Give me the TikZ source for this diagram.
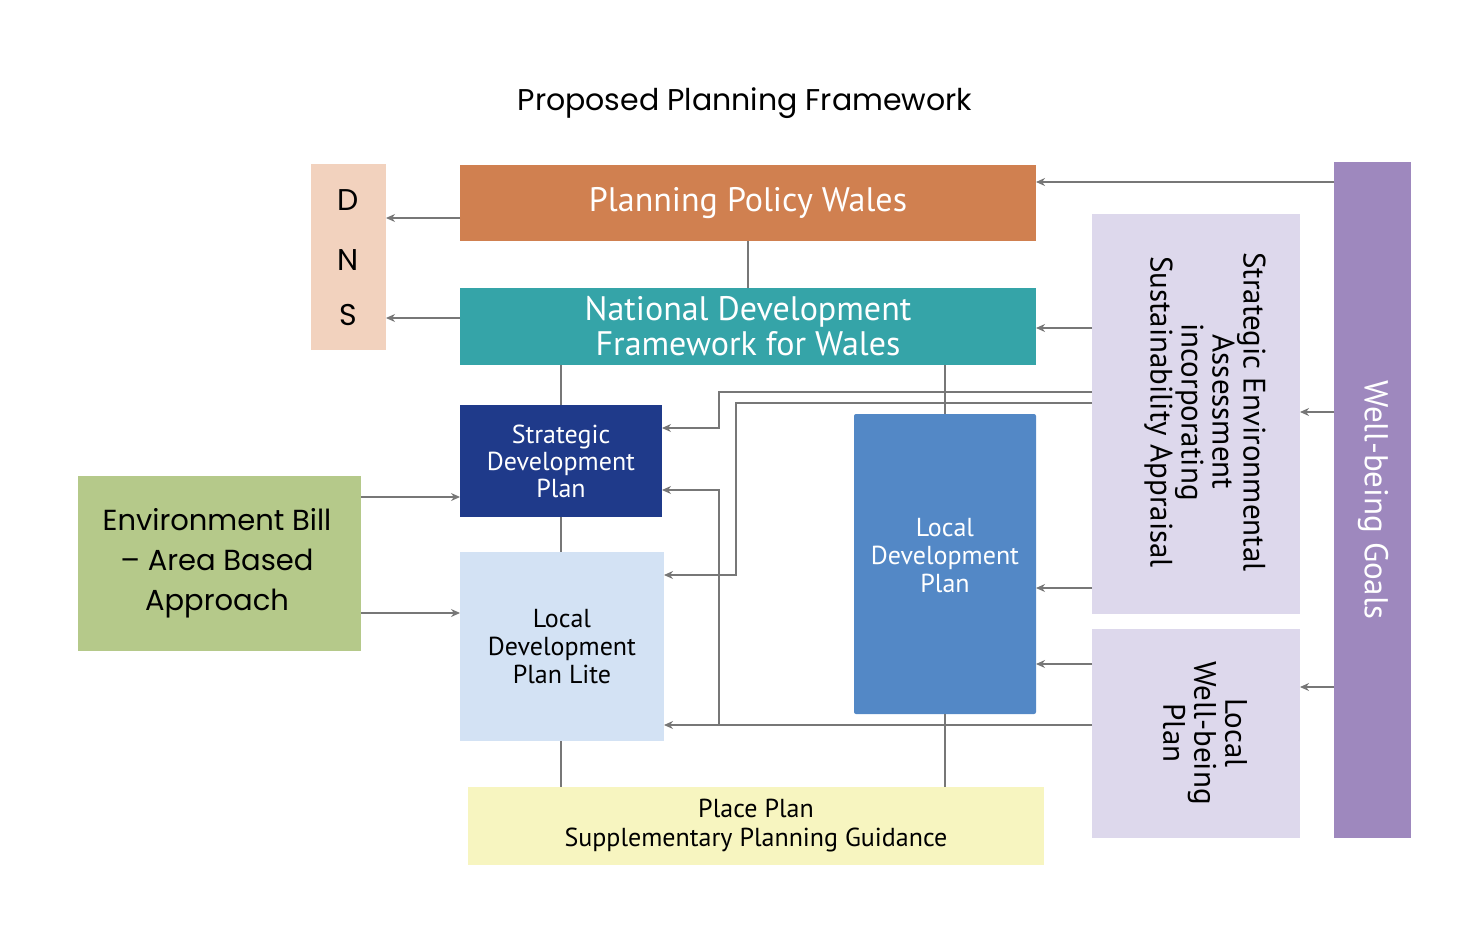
\documentclass[tikz,border=0pt]{standalone}
\usepackage{fontspec}
\setmainfont{PT Sans}
\newfontfamily\geofont{Poppins}
\usetikzlibrary{arrows.meta}
\definecolor{dnscol}{HTML}{F2D2BE}
\definecolor{ppwcol}{HTML}{D08050}
\definecolor{ndfcol}{HTML}{35A4A8}
\definecolor{sdpcol}{HTML}{1F3A8A}
\definecolor{ldplcol}{HTML}{D3E2F4}
\definecolor{ldpcol}{HTML}{5388C6}
\definecolor{placecol}{HTML}{F7F5C0}
\definecolor{ebcol}{HTML}{B5C98A}
\definecolor{seacol}{HTML}{DDD8EC}
\definecolor{wbgcol}{HTML}{9E88BE}
\definecolor{linecol}{HTML}{777777}
\tikzset{
  box/.style={inner sep=0pt, align=center, line width=0pt},
  conn/.style={draw=linecol, line width=1.2pt},
  arr/.style={conn, -{Stealth[length=9pt,width=8pt]}}
}
\newcommand{\fsize}[2]{\fontsize{#1}{#2}\selectfont}
\begin{document}
\begin{tikzpicture}[x=1pt,y=-1pt]
\useasboundingbox (0,0) rectangle (1471,933);
\node at (745,103) {\geofont\fsize{30}{34}Proposed Planning Framework};

\node[box, fill=dnscol, minimum width=75, minimum height=186] (dns) at (348.5,257) {};
\node at (348,200) {\geofont\fsize{30}{34}D};
\node at (348,260) {\geofont\fsize{30}{34}N};
\node at (348,315) {\geofont\fsize{30}{34}S};

\node[box, fill=ppwcol, text=white, minimum width=576, minimum height=76, font=\fsize{34}{36}] (ppw) at (748,203) {Planning Policy Wales};
\node[box, fill=ndfcol, text=white, minimum width=576, minimum height=77, font=\fsize{34}{35}] (ndf) at (748,326.5) {National Development\\Framework for Wales};
\node[box, fill=sdpcol, text=white, minimum width=202, minimum height=112, font=\fsize{26}{27}] (sdp) at (561,461) {Strategic\\Development\\Plan};
\node[box, fill=ldplcol, minimum width=204, minimum height=189, font=\fsize{26}{28}] (ldpl) at (562,646.5) {Local\\Development\\Plan Lite};
\node[box, fill=ldpcol, minimum width=182, minimum height=300, rounded corners=2pt] (ldp) at (945,564) {};
\node[text=white, align=center, font=\fsize{26}{28}] at (945,556) {Local\\Development\\Plan};
\node[box, fill=placecol, minimum width=576, minimum height=78, font=\fsize{26}{29}] (place) at (756,826) {Place Plan\\Supplementary Planning Guidance};
\node[box, fill=ebcol, minimum width=283, minimum height=175] (eb) at (219.5,563.5) {};
\node[align=center, font=\geofont\fsize{29}{40}] at (217,563) {Environment Bill\\– Area Based\\Approach};
\node[box, fill=seacol, minimum width=208, minimum height=400] (sea) at (1196,414) {};
\node[rotate=-90, align=center, font=\fsize{31}{31}] at (1205,412) {Strategic Environmental\\Assessment\\incorporating\\Sustainability Appraisal};
\node[box, fill=seacol, minimum width=208, minimum height=209] (lwp) at (1196,733.5) {};
\node[rotate=-90, align=center, font=\fsize{31}{31}] at (1205,733) {Local\\Well-being\\Plan};
\node[box, fill=wbgcol, minimum width=77, minimum height=676] (wbg) at (1372.5,500) {};
\node[rotate=-90, text=white, font=\fsize{33}{35}] at (1373,500) {Well-being Goals};

% plain links
\draw[conn] (ppw.south) -- (ndf.north);
\draw[conn] (ndf.south -| sdp.north) -- (sdp.north);
\draw[conn] (sdp.south) -- (ldpl.north -| sdp.south);
\draw[conn] (ldpl.south -| sdp.south) -- (place.north -| sdp.south);
\draw[conn] (ndf.south -| ldp.north) -- (ldp.north);
\draw[conn] (ldp.south) -- (place.north -| ldp.south);

% arrows
\draw[arr] (ppw.west |- 0,218) -- (dns.east |- 0,218);
\draw[arr] (ndf.west |- 0,318) -- (dns.east |- 0,318);
\draw[arr] (wbg.west |- 0,182) -- (ppw.east |- 0,182);
\draw[arr] (sea.west |- 0,328) -- (ndf.east |- 0,328);
\draw[arr] (wbg.west |- 0,412) -- (sea.east |- 0,412);
\draw[arr] (wbg.west |- 0,687) -- (lwp.east |- 0,687);
\draw[arr] (eb.east |- 0,497) -- (sdp.west |- 0,497);
\draw[arr] (eb.east |- 0,613) -- (ldpl.west |- 0,613);
\draw[arr] (sea.west |- 0,392) -- (719,392) -- (719,428) -- (sdp.east |- 0,428);
\draw[arr] (sea.west |- 0,403) -- (736,403) -- (736,575) -- (ldpl.east |- 0,575);
\draw[arr] (lwp.west |- 0,725) -- (ldpl.east |- 0,725);
\draw[arr] (719,725) -- (719,490) -- (sdp.east |- 0,490);
\draw[arr] (sea.west |- 0,588) -- (ldp.east |- 0,588);
\draw[arr] (lwp.west |- 0,664) -- (ldp.east |- 0,664);
\end{tikzpicture}
\end{document}
